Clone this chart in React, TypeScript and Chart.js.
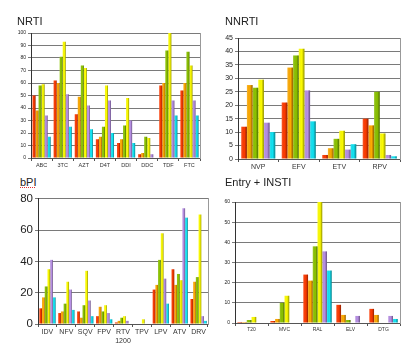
import React, { useEffect, useRef } from "react";
import { Chart, registerables } from "chart.js";

Chart.register(...registerables);

// ---------- data ----------
const NRTI_CATS = ["ABC", "3TC", "AZT", "D4T", "DDI", "DDC", "TDF", "FTC"];
const NRTI_RED = [50, 62, 35, 15, 12, 3, 58, 54];
const NRTI_ORANGE = [38, 60, 49, 17, 15, 4, 60, 60];
const NRTI_GREEN = [58, 81, 74, 25, 26, 17, 86, 85];
const NRTI_YELLOW = [59, 93, 72, 58, 48, 16, 100, 74];
const NRTI_PURPLE = [34, 51, 42, 46, 30, 3, 46, 46];
const NRTI_CYAN = [17, 25, 23, 20, 12, 0, 34, 34];
const NRTI_TICKS = { max: 100, step: 10 };

const NNRTI_CATS = ["NVP", "EFV", "ETV", "RPV"];
const NNRTI_RED = [12, 21, 1.5, 15];
const NNRTI_ORANGE = [27.5, 34, 4, 12.5];
const NNRTI_GREEN = [26.5, 38.5, 7.5, 25];
const NNRTI_YELLOW = [29.5, 41, 10.5, 9.5];
const NNRTI_PURPLE = [13.5, 25.5, 3.5, 1.5];
const NNRTI_CYAN = [10, 14, 5.5, 1];
const NNRTI_TICKS = { max: 45, step: 5 };

const BPI_CATS: (string | string[])[] = ["IDV", "NFV", "SQV", "FPV", ["RTV", "1200"], "TPV", "LPV", "ATV", "DRV"];
const BPI_RED = [10, 7, 8, 5, 1, 0, 22, 35, 16];
const BPI_ORANGE = [17, 8, 4, 11, 2, 0, 25, 25, 27];
const BPI_GREEN = [24, 13, 12, 8, 4, 0, 41, 32, 30];
const BPI_YELLOW = [35, 27, 34, 12, 5, 3, 58, 28, 70];
const BPI_PURPLE = [41, 22, 15, 7, 2, 0, 29, 74, 5];
const BPI_CYAN = [17, 9, 5, 3, 0, 0, 13, 68, 2];
const BPI_TICKS = { max: 80, step: 10 };

const ENTRY_CATS = ["T20", "MVC", "RAL", "ELV", "DTG"];
const ENTRY_RED = [0.5, 1, 24, 9, 7];
const ENTRY_ORANGE = [0.5, 2, 21, 4, 4];
const ENTRY_GREEN = [1.5, 10, 38, 1.5, 0];
const ENTRY_YELLOW = [3, 13.5, 60, 0, 0];
const ENTRY_PURPLE = [0, 0, 35.5, 3.5, 3.5];
const ENTRY_CYAN = [0, 0, 26, 0, 2];
const ENTRY_TICKS = { max: 60, step: 10 };

const COLORS = ["#ff3a00", "#ffaa00", "#8cc400", "#ffff00", "#b890e6", "#10e4f4"];
const FONT = "'Liberation Sans', Arial, sans-serif";

// subtle 3D shading on top of the bars the library drew
const shadePlugin = {
  id: "shade",
  afterDatasetsDraw(chart: any) {
    const ctx = chart.ctx;
    chart.data.datasets.forEach((_: any, di: number) => {
      const meta = chart.getDatasetMeta(di);
      meta.data.forEach((bar: any) => {
        const { x, y, base, width } = bar.getProps(["x", "y", "base", "width"], true);
        const h = base - y;
        if (!(h > 0.5)) return;
        const l = x - width / 2;
        const g = ctx.createLinearGradient(l, 0, l + width, 0);
        g.addColorStop(0, "rgba(255,255,255,0.18)");
        g.addColorStop(0.55, "rgba(0,0,0,0)");
        g.addColorStop(1, "rgba(0,0,0,0.45)");
        ctx.save();
        ctx.fillStyle = g;
        ctx.fillRect(l, y, width, h);
        ctx.restore();
      });
    });
  },
};

type Panel = {
  cats: (string | string[])[];
  series: number[][];
  ticks: { max: number; step: number };
  box: { x: number; y: number; w: number; h: number };
  plot: { l: number; t: number; r: number; b: number };
  yFont: number;
  xFont: number;
  cat: number;
};

const PANELS: Panel[] = [
  {
    cats: NRTI_CATS,
    series: [NRTI_RED, NRTI_ORANGE, NRTI_GREEN, NRTI_YELLOW, NRTI_PURPLE, NRTI_CYAN],
    ticks: NRTI_TICKS,
    box: { x: 0, y: 22, w: 204, h: 153 },
    plot: { l: 31, t: 33, r: 200, b: 158 },
    yFont: 5,
    xFont: 5.5,
    cat: 0.86,
  },
  {
    cats: NNRTI_CATS,
    series: [NNRTI_RED, NNRTI_ORANGE, NNRTI_GREEN, NNRTI_YELLOW, NNRTI_PURPLE, NNRTI_CYAN],
    ticks: NNRTI_TICKS,
    box: { x: 205, y: 25, w: 196, h: 155 },
    plot: { l: 238, t: 38, r: 400, b: 159 },
    yFont: 7,
    xFont: 7,
    cat: 0.84,
  },
  {
    cats: BPI_CATS,
    series: [BPI_RED, BPI_ORANGE, BPI_GREEN, BPI_YELLOW, BPI_PURPLE, BPI_CYAN],
    ticks: BPI_TICKS,
    box: { x: 0, y: 190, w: 210, h: 160 },
    plot: { l: 38, t: 198, r: 208, b: 324 },
    yFont: 11.5,
    xFont: 7,
    cat: 0.86,
  },
  {
    cats: ENTRY_CATS,
    series: [ENTRY_RED, ENTRY_ORANGE, ENTRY_GREEN, ENTRY_YELLOW, ENTRY_PURPLE, ENTRY_CYAN],
    ticks: ENTRY_TICKS,
    box: { x: 210, y: 192, w: 191, h: 145 },
    plot: { l: 235, t: 202, r: 400, b: 323 },
    yFont: 5,
    xFont: 5,
    cat: 0.86,
  },
];

function BarPanel({ p }: { p: Panel }) {
  const ref = useRef<HTMLCanvasElement>(null);
  useEffect(() => {
    if (!ref.current) return;
    const yW = p.plot.l - p.box.x;
    const xH = p.box.y + p.box.h - p.plot.b;
    const padTop = p.plot.t - p.box.y;
    const padRight = p.box.x + p.box.w - p.plot.r;
    const chart = new Chart(ref.current, {
      type: "bar",
      data: {
        labels: p.cats as any,
        datasets: p.series.map((d, i) => ({
          data: d,
          backgroundColor: COLORS[i],
          borderWidth: 0,
          categoryPercentage: p.cat,
          barPercentage: 1,
        })),
      },
      options: {
        animation: false,
        responsive: false,
        maintainAspectRatio: false,
        layout: { padding: { top: padTop, right: padRight, left: 0, bottom: 0 } },
        plugins: { legend: { display: false }, tooltip: { enabled: false }, title: { display: false } },
        scales: {
          x: {
            grid: { display: true, drawOnChartArea: false, offset: true, tickLength: 3, color: "#555" },
            border: { display: true, color: "#555" },
            ticks: {
              font: { size: p.xFont, family: FONT },
              color: "#333",
              padding: 1,
              maxRotation: 0,
              autoSkip: false,
            },
            afterFit: (s: any) => {
              s.height = xH;
            },
          },
          y: {
            min: 0,
            max: p.ticks.max,
            ticks: { stepSize: p.ticks.step, font: { size: p.yFont, family: FONT }, color: "#222", padding: 2 },
            grid: { color: "#7a7a7a", tickLength: 3, lineWidth: 1 },
            border: { display: true, color: "#333" },
            afterFit: (s: any) => {
              s.width = yW;
            },
          },
          y2: {
            position: "right",
            min: 0,
            max: p.ticks.max,
            grid: { display: false },
            ticks: { display: false },
            border: { display: true, color: "#999" },
            afterFit: (s: any) => {
              s.width = 0;
            },
          },
        },
      } as any,
      plugins: [shadePlugin],
    });
    return () => chart.destroy();
  }, [p]);
  return (
    <canvas
      ref={ref}
      width={p.box.w}
      height={p.box.h}
      style={{ position: "absolute", left: p.box.x, top: p.box.y, width: p.box.w, height: p.box.h }}
    />
  );
}

const TITLES = [
  { text: "NRTI", x: 17, y: 15.5, deco: false },
  { text: "NNRTI", x: 225, y: 15.5, deco: false },
  { text: "bPI", x: 20, y: 176.5, deco: true },
  { text: "Entry + INSTI", x: 225, y: 176.5, deco: false },
];

export default function App() {
  return (
    <div
      style={{
        position: "absolute",
        left: 0,
        top: 0,
        width: 401,
        height: 350,
        background: "#fff",
        overflow: "hidden",
      }}
    >
      {PANELS.map((p, i) => (
        <BarPanel key={i} p={p} />
      ))}
      {TITLES.map((t) => (
        <div
          key={t.text}
          style={{
            position: "absolute",
            left: t.x,
            top: t.y,
            fontFamily: FONT,
            fontSize: 11,
            lineHeight: "11px",
            color: "#222",
            whiteSpace: "nowrap",
            textDecoration: t.deco ? "underline dotted #e03030" : "none",
            textDecorationThickness: t.deco ? "1px" : undefined,
            textUnderlineOffset: t.deco ? "1px" : undefined,
          }}
        >
          {t.text}
        </div>
      ))}
    </div>
  );
}
